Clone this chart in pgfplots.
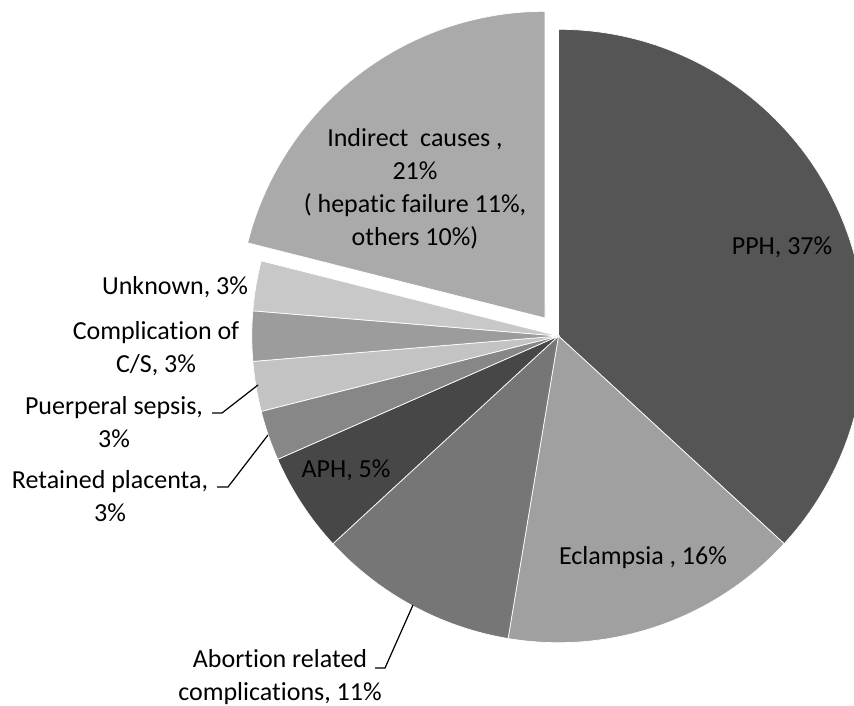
\documentclass[border=0pt]{standalone}
\usepackage{fontspec}
\setmainfont{Carlito}[Ligatures={NoCommon}]
\usepackage{pgfplots}
\pgfplotsset{compat=1.18}
\definecolor{cPPH}{HTML}{555555}
\definecolor{cEcl}{HTML}{A0A0A0}
\definecolor{cAbo}{HTML}{767676}
\definecolor{cAPH}{HTML}{474747}
\definecolor{cRet}{HTML}{878787}
\definecolor{cSep}{HTML}{C3C3C3}
\definecolor{cCS}{HTML}{9C9C9C}
\definecolor{cUnk}{HTML}{C8C8C8}
\definecolor{cInd}{HTML}{AAAAAA}
\newcommand\lbl{\fontsize{26}{33}\selectfont}
\begin{document}
\begin{tikzpicture}
% death counts (n = 38)
\def\nPPH{14}\def\nEcl{6}\def\nAbo{4}\def\nAPH{2}
\def\nRet{1}\def\nSep{1}\def\nCS{1}\def\nUnk{1}\def\nInd{8}
\pgfmathsetmacro\tot{\nPPH+\nEcl+\nAbo+\nAPH+\nRet+\nSep+\nCS+\nUnk+\nInd}
\pgfmathsetmacro\aA{90}
\pgfmathsetmacro\aB{\aA-\nPPH/\tot*360}
\pgfmathsetmacro\aC{\aB-\nEcl/\tot*360}
\pgfmathsetmacro\aD{\aC-\nAbo/\tot*360}
\pgfmathsetmacro\aE{\aD-\nAPH/\tot*360}
\pgfmathsetmacro\aF{\aE-\nRet/\tot*360}
\pgfmathsetmacro\aG{\aF-\nSep/\tot*360}
\pgfmathsetmacro\aH{\aG-\nCS/\tot*360}
\pgfmathsetmacro\aI{\aH-\nUnk/\tot*360}
\pgfmathsetmacro\aJ{\aI-\nInd/\tot*360}
\def\cx{558.5}\def\cy{336}\def\R{306.7pt}
\begin{axis}[scale only axis, width=854pt, height=706pt,
  xmin=0, xmax=854, ymin=0, ymax=706, y dir=reverse,
  hide axis, clip=false]
\fill[cPPH, draw=white, line width=0.7pt] (axis cs:\cx,\cy) -- ++(\aA:\R) arc[start angle=\aA, end angle=\aB, radius=\R] -- cycle;
\fill[cEcl, draw=white, line width=0.7pt] (axis cs:\cx,\cy) -- ++(\aB:\R) arc[start angle=\aB, end angle=\aC, radius=\R] -- cycle;
\fill[cAbo, draw=white, line width=0.7pt] (axis cs:\cx,\cy) -- ++(\aC:\R) arc[start angle=\aC, end angle=\aD, radius=\R] -- cycle;
\fill[cAPH, draw=white, line width=0.7pt] (axis cs:\cx,\cy) -- ++(\aD:\R) arc[start angle=\aD, end angle=\aE, radius=\R] -- cycle;
\fill[cRet, draw=white, line width=0.7pt] (axis cs:\cx,\cy) -- ++(\aE:\R) arc[start angle=\aE, end angle=\aF, radius=\R] -- cycle;
\fill[cSep, draw=white, line width=0.7pt] (axis cs:\cx,\cy) -- ++(\aF:\R) arc[start angle=\aF, end angle=\aG, radius=\R] -- cycle;
\fill[cCS, draw=white, line width=0.7pt] (axis cs:\cx,\cy) -- ++(\aG:\R) arc[start angle=\aG, end angle=\aH, radius=\R] -- cycle;
\fill[cUnk, draw=white, line width=0.7pt] (axis cs:\cx,\cy) -- ++(\aH:\R) arc[start angle=\aH, end angle=\aI, radius=\R] -- cycle;
% exploded slice
\fill[cInd, draw=white, line width=0.7pt] (axis cs:545,318) -- ++(\aI:\R) arc[start angle=\aI, end angle=\aJ, radius=\R] -- cycle;
% leader lines
\draw[black, line width=1.2pt] (axis cs:413,605) -- (axis cs:385,668) -- (axis cs:375,668);
\draw[black, line width=1.2pt] (axis cs:258,385) -- (axis cs:222,413) -- (axis cs:212,413);
\draw[black, line width=1.2pt] (axis cs:268,435) -- (axis cs:228,487) -- (axis cs:217,487);
% labels
\node[align=center, font=\lbl, inner sep=0pt] at (axis cs:415,188.5) {Indirect~ causes ,\\21\%\\( hepatic failure 11\%,\\others 10\%)};
\node[font=\lbl, inner sep=0pt] at (axis cs:782,247) {PPH, 37\%};
\node[font=\lbl, inner sep=0pt] at (axis cs:643,558) {Eclampsia , 16\%};
\node[font=\lbl, inner sep=0pt] at (axis cs:346,470) {APH, 5\%};
\node[font=\lbl, inner sep=0pt] at (axis cs:175,287) {Unknown, 3\%};
\node[align=center, font=\lbl, inner sep=0pt] at (axis cs:156,348.5) {Complication of\\C/S, 3\%};
\node[align=center, font=\lbl, inner sep=0pt] at (axis cs:114,422.5) {Puerperal sepsis,\\3\%};
\node[align=center, font=\lbl, inner sep=0pt] at (axis cs:110,496.5) {Retained placenta,\\3\%};
\node[align=center, font=\lbl, inner sep=0pt] at (axis cs:280,677) {Abortion related\\complications, 11\%};
\end{axis}
\pgfresetboundingbox
\path[use as bounding box] (current axis.south west) rectangle (current axis.north east);
\end{tikzpicture}
\end{document}
